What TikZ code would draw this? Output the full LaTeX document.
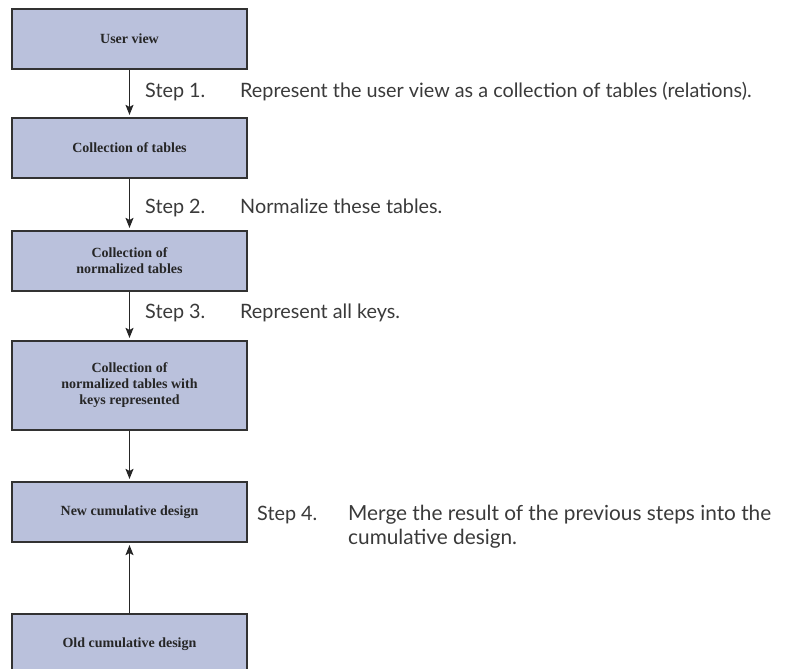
\documentclass[tikz,border=0pt]{standalone}
\usepackage{fontspec}
\setmainfont{Liberation Serif}
\newfontfamily\stepfont{Lato}
\usetikzlibrary{arrows.meta}
\definecolor{boxfill}{RGB}{186,193,220}
\definecolor{boxline}{RGB}{50,50,50}
\definecolor{steptext}{RGB}{58,58,58}
\tikzset{
  stagebox/.style={draw=boxline, line width=1.2pt, fill=boxfill, minimum width=235pt,
    inner sep=0pt, align=center, font=\fontsize{14}{16}\selectfont\bfseries, text=black!85},
  steplabel/.style={anchor=base west, inner sep=0pt, text=steptext,
    font=\fontsize{19.8}{24}\selectfont\stepfont},
  flow/.style={draw=black!85, line width=1.1pt, -{Stealth[length=10pt,width=8pt,inset=2pt]}, shorten >=2.5pt}
}
\begin{document}
\begin{tikzpicture}[x=1pt,y=-1pt]
\clip (0,0) rectangle (793,669);
\node[stagebox, minimum height=60pt] (b1) at (129.5,39) {User view};
\node[stagebox, minimum height=60pt] (b2) at (129.5,148) {Collection of tables};
\node[stagebox, minimum height=60pt] (b3) at (129.5,261) {Collection of\\normalized tables};
\node[stagebox, minimum height=89pt] (b4) at (129.5,385.5) {Collection of\\normalized tables with\\keys represented};
\node[stagebox, minimum height=60pt] (b5) at (129.5,512) {New cumulative design};
\node[stagebox, minimum height=60pt] (b6) at (129.5,644) {Old cumulative design};

\draw[flow] (b1) -- (b2);
\draw[flow] (b2) -- (b3);
\draw[flow] (b3) -- (b4);
\draw[flow] (b4) -- (b5);
\draw[flow] (b6) -- (b5);

\node[steplabel] (s1) at (145,97) {Step 1.};
\node[steplabel] (t1) at (240,97) {Represent the user view as a collection of tables (relations).};
\node[steplabel] (s2) at (145,213) {Step 2.};
\node[steplabel] (t2) at (240,213) {Normalize these tables.};
\node[steplabel] (s3) at (145,318) {Step 3.};
\node[steplabel] (t3) at (240,318) {Represent all keys.};
\node[steplabel] (s4) at (257,520) {Step 4.};
\node[steplabel, font=\fontsize{20.8}{24}\selectfont\stepfont] (t4) at (348,520) {Merge the result of the previous steps into the};
\node[steplabel, font=\fontsize{20.8}{24}\selectfont\stepfont] (t4b) at (348,544) {cumulative design.};
\end{tikzpicture}
\end{document}
